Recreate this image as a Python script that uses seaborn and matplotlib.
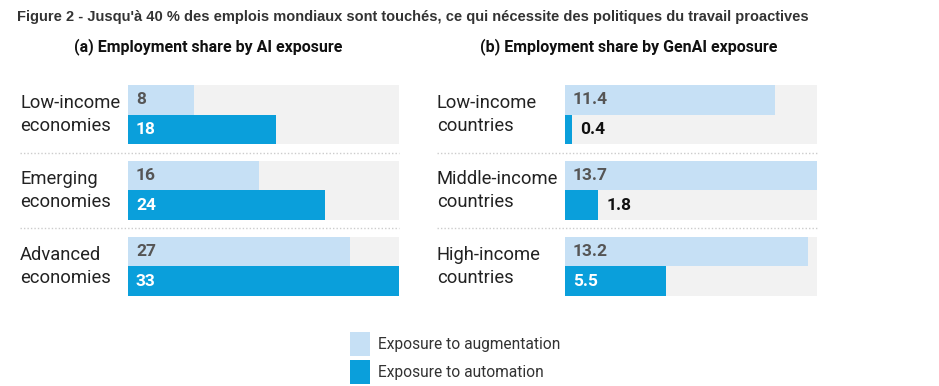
import matplotlib
matplotlib.use("Agg")
import matplotlib.pyplot as plt
import matplotlib.transforms as mtransforms
import seaborn as sns
import pandas as pd

sns.set_theme(style="white")
COND = ["Roboto", "DejaVu Sans"]
plt.rcParams["font.family"] = COND

title_main = "Figure 2 - Jusqu'à 40 % des emplois mondiaux sont touchés, ce qui nécessite des politiques du travail proactives"
title_a = "(a) Employment share by AI exposure"
title_b = "(b) Employment share by GenAI exposure"

series = ["Exposure to augmentation", "Exposure to automation"]

cats_a = ["Low-income\neconomies", "Emerging\neconomies", "Advanced\neconomies"]
aug_a = [8, 16, 27]
auto_a = [18, 24, 33]
labels_aug_a = ["8", "16", "27"]
labels_auto_a = ["18", "24", "33"]

cats_b = ["Low-income\ncountries", "Middle-income\ncountries", "High-income\ncountries"]
aug_b = [11.4, 13.7, 13.2]
auto_b = [0.4, 1.8, 5.5]
labels_aug_b = ["11.4", "13.7", "13.2"]
labels_auto_b = ["0.4", "1.8", "5.5"]

C_AUG = "#c6e0f5"
C_AUTO = "#0a9fdb"
C_BG = "#f2f2f2"

W, H = 939, 386
fig = plt.figure(figsize=(W / 100, H / 100), dpi=100)
fig.patch.set_facecolor("white")


def fx(px):
    return px / W


def fy(py):
    return 1 - py / H


def panel(left_px, right_px, cats, aug, auto, lab_aug, lab_auto, label_x_px):
    top, bot = 85, 296
    ax = fig.add_axes([fx(left_px), fy(bot), fx(right_px - left_px), (bot - top) / H])
    df = pd.DataFrame({
        "cat": cats * 2,
        "value": list(aug) + list(auto),
        "series": [series[0]] * len(cats) + [series[1]] * len(cats),
    })
    half = 0.39
    xmax = max(max(aug), max(auto))
    for i in range(len(cats)):
        ax.axhspan(i - half, i + half, color=C_BG, zorder=0, lw=0)
    sns.barplot(data=df, y="cat", x="value", hue="series", orient="h",
                palette={series[0]: C_AUG, series[1]: C_AUTO}, saturation=1,
                width=2 * half, gap=0, dodge=True, ax=ax, legend=True, zorder=2,
                linewidth=0, edgecolor="none")
    ax.set_xlim(0, xmax)
    ax.set_ylim(len(cats) - 1 + half, -half)
    ax.set_xlabel("")
    ax.set_ylabel("")
    ax.set_xticks([])
    ax.set_yticks([])
    for s in ax.spines.values():
        s.set_visible(False)
    ax.set_facecolor("none")
    width_px = right_px - left_px
    dx = 8 / width_px * xmax
    off = half / 2
    for i in range(len(cats)):
        ax.text(dx, i - off, lab_aug[i], va="center", ha="left", fontsize=12.5,
                fontweight="bold", color="#555555", zorder=3)
        v = auto[i]
        if v / xmax < 0.15:
            ax.text(v + dx, i + off, lab_auto[i], va="center", ha="left", fontsize=12.5,
                    fontweight="bold", color="#111111", zorder=3)
        else:
            ax.text(dx, i + off, lab_auto[i], va="center", ha="left", fontsize=12.5,
                    fontweight="bold", color="white", zorder=3)
    trans = mtransforms.blended_transform_factory(ax.transAxes, ax.transData)
    lx = (label_x_px - left_px) / width_px
    for i, c in enumerate(cats):
        ax.text(lx, i, c, transform=trans, ha="left", va="center", fontsize=13.2,
                color="#222222", linespacing=1.35)
    for i in range(len(cats) - 1):
        ax.plot([lx, 1], [i + 0.5, i + 0.5], transform=trans, ls=(0, (1, 1.5)),
                color="#cccccc", lw=1, clip_on=False)
    return ax


ax1 = panel(128, 399, cats_a, aug_a, auto_a, labels_aug_a, labels_auto_a, 20)
ax2 = panel(565, 817, cats_b, aug_b, auto_b, labels_aug_b, labels_auto_b, 437)

handles, labels = ax1.get_legend_handles_labels()
ax1.get_legend().remove()
ax2.get_legend().remove()

fig.text(fx(17), fy(17), title_main, ha="left", va="center", fontsize=10.5,
         fontweight="bold", color="#333333", family=["Liberation Sans", "DejaVu Sans"])
fig.text(fx(208), fy(47), title_a, ha="center", va="center", fontsize=11.5,
         fontweight="bold", color="#111111")
fig.text(fx(629), fy(47), title_b, ha="center", va="center", fontsize=11.5,
         fontweight="bold", color="#111111")

leg = fig.legend(handles, labels, loc="upper left", bbox_to_anchor=(fx(350), fy(332)),
                 frameon=False, fontsize=11.2, handlelength=1.3, handleheight=1.95,
                 labelspacing=0.3, handletextpad=0.5, borderaxespad=0, borderpad=0)
for t in leg.get_texts():
    t.set_color("#333333")

fig.savefig("out.png", dpi=100)
